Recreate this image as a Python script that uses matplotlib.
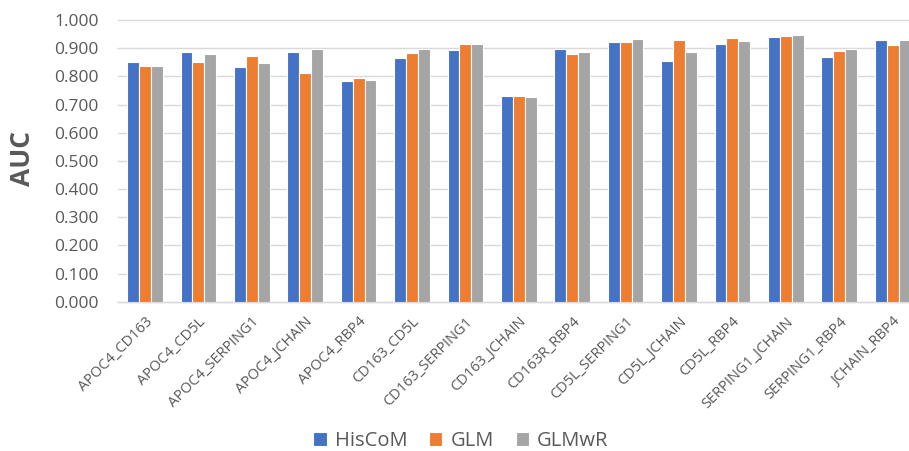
import matplotlib
matplotlib.use("Agg")
import matplotlib.pyplot as plt
import numpy as np

categories = ["APOC4_CD163", "APOC4_CD5L", "APOC4_SERPING1", "APOC4_JCHAIN", "APOC4_RBP4",
              "CD163_CD5L", "CD163_SERPING1", "CD163_JCHAIN", "CD163R_RBP4", "CD5L_SERPING1",
              "CD5L_JCHAIN", "CD5L_RBP4", "SERPING1_JCHAIN", "SERPING1_RBP4", "JCHAIN_RBP4"]
series_names = ["HisCoM", "GLM", "GLMwR"]
hiscom = [0.851, 0.885, 0.833, 0.885, 0.785, 0.866, 0.893, 0.730, 0.898, 0.923,
          0.854, 0.916, 0.940, 0.870, 0.928]
glm = [0.837, 0.851, 0.871, 0.813, 0.793, 0.883, 0.916, 0.730, 0.880, 0.923,
       0.930, 0.937, 0.943, 0.890, 0.910]
glmwr = [0.837, 0.880, 0.847, 0.896, 0.787, 0.896, 0.914, 0.728, 0.887, 0.933,
         0.885, 0.926, 0.946, 0.896, 0.930]
yticks = [0.0, 0.1, 0.2, 0.3, 0.4, 0.5, 0.6, 0.7, 0.8, 0.9, 1.0]

colors = ["#4472C4", "#ED7D31", "#A5A5A5"]
text_color = "#595959"
grid_color = "#D9D9D9"

plt.rcParams["font.family"] = ["Open Sans", "DejaVu Sans"]

fig = plt.figure(figsize=(9.09, 4.51), dpi=100)
W, H = 909, 451
left_px, right_px = 118.3, 118.3 + 15 * 53.4
top_px, bottom_px = 20.0, 301.7
ax = fig.add_axes([left_px / W, (H - bottom_px) / H,
                   (right_px - left_px) / W, (bottom_px - top_px) / H])

x = np.arange(len(categories))
bw = 0.221
for i, (vals, name) in enumerate(zip([hiscom, glm, glmwr], series_names)):
    ax.bar(x + (i - 1) * bw, vals, width=bw, color=colors[i], edgecolor="white",
           linewidth=0.8, label=name, zorder=3)

ax.set_xlim(-0.5, len(categories) - 0.5)
ax.set_ylim(0, 1.0)
ax.set_yticks(yticks)
ax.set_yticklabels([f"{v:.3f}" for v in yticks], fontsize=12.5, color=text_color)
ax.yaxis.grid(True, color=grid_color, linewidth=1.0, zorder=0)
for t in ax.yaxis.get_gridlines():
    t.set_clip_on(False)
ax.tick_params(axis="y", length=0, pad=14)
ax.tick_params(axis="x", length=0, pad=9)

ax.set_xticks(x)
ax.set_xticklabels(categories, rotation=45, ha="right", va="top",
                   rotation_mode="anchor", fontsize=10.5, color=text_color)

for s in ["top", "right", "left"]:
    ax.spines[s].set_visible(False)
ax.spines["bottom"].set_color(grid_color)
ax.spines["bottom"].set_linewidth(1.0)

fig.text(22 / W, 1 - 158 / H, "AUC", rotation=90, fontsize=19, fontweight="bold",
         color=text_color, ha="center", va="center")

handles, labels = ax.get_legend_handles_labels()
fig.legend(handles, labels, loc="center", bbox_to_anchor=(461 / W, 1 - 441 / H),
           ncol=3, frameon=False, fontsize=14.5, labelcolor=text_color,
           handlelength=0.65, handleheight=0.65, handletextpad=0.4, columnspacing=1.1)

fig.savefig("out.png", dpi=100)
